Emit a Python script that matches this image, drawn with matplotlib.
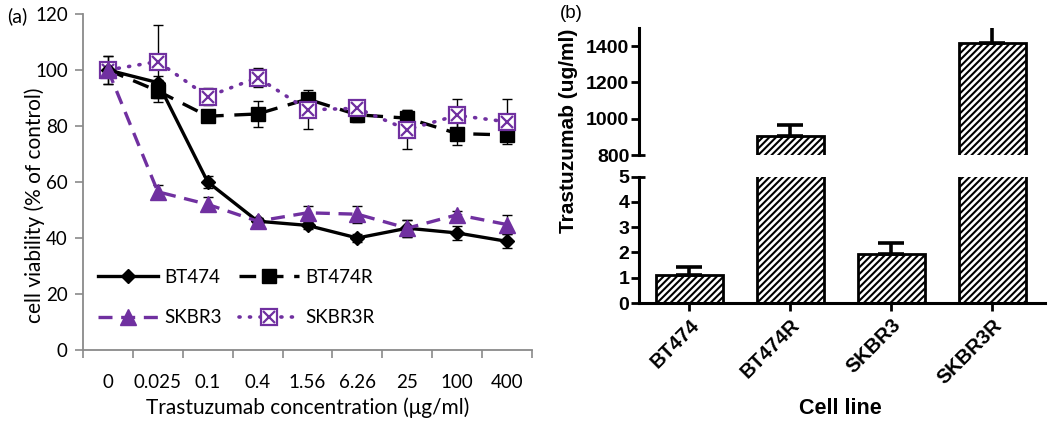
import numpy as np
import matplotlib
matplotlib.use("Agg")
import matplotlib.pyplot as plt
from matplotlib.lines import Line2D
from matplotlib.legend_handler import HandlerTuple

# ---------------- data ----------------
conc_labels = ['0', '0.025', '0.1', '0.4', '1.56', '6.26', '25', '100', '400']
bt474 = [100, 95.5, 60, 46, 44.5, 40, 43.5, 41.8, 38.8]
bt474_err = [2, 2.5, 2.2, 1, 1.2, 1.5, 3, 2.5, 2.5]
bt474r = [100, 92.5, 83.5, 84.3, 89.6, 84, 82.8, 77.3, 76.8]
bt474r_err = [2, 4, 2, 4.5, 1.5, 2.5, 3, 4, 1.5]
skbr3 = [100, 56.5, 52, 46, 49, 48.5, 43.5, 48.3, 44.8]
skbr3_err = [5, 2.5, 2.5, 1, 2.5, 3, 3, 1.5, 3.5]
skbr3r = [100, 103, 90.5, 97.3, 85.8, 86.3, 78.7, 83.8, 81.5]
skbr3r_err = [5, 13, 3, 3.5, 7, 2.5, 7, 6, 8]

cell_lines = ['BT474', 'BT474R', 'SKBR3', 'SKBR3R']
ic50 = [1.12, 905, 1.93, 1415]
ic50_err = [0.3, 60, 0.43, 100]

# ---------------- style ----------------
PURPLE = '#7030A0'
GRAY = '#8a8a8a'
FA = 'Lato'
FB = 'Liberation Sans'

W, H = 1050, 425
fig = plt.figure(figsize=(W / 100, H / 100), dpi=100)

def fx(px):
    return px / W

def fy(py):
    return 1 - py / H

# ---------------- panel (a) ----------------
axa = fig.add_axes([fx(83), fy(350), fx(532 - 83), (350 - 14) / H])
x = np.arange(len(conc_labels))

eb_kw = dict(ecolor='black', elinewidth=1.0, capsize=3.5, capthick=1.0, zorder=2)
axa.errorbar(x, bt474r, yerr=bt474r_err, fmt='none', **eb_kw)
axa.errorbar(x, skbr3r, yerr=skbr3r_err, fmt='none', **eb_kw)
axa.errorbar(x, bt474, yerr=bt474_err, fmt='none', **eb_kw)
axa.errorbar(x, skbr3, yerr=skbr3_err, fmt='none', **eb_kw)

l_bt474r, = axa.plot(x, bt474r, color='black', lw=2.4, dashes=(5, 3.2),
                     marker='s', ms=10, mfc='black', mec='black', zorder=3)
l_skbr3r, = axa.plot(x, skbr3r, color=PURPLE, lw=2.6, linestyle=(0, (0.3, 2.6)),
                     dash_capstyle='round', marker='s', ms=11.5, mfc='white',
                     mec=PURPLE, mew=1.6, zorder=4)
x_skbr3r, = axa.plot(x, skbr3r, linestyle='none', marker='x', ms=9,
                     mec=PURPLE, mew=1.6, zorder=5)
l_bt474, = axa.plot(x, bt474, color='black', lw=2.4, marker='D', ms=7.5,
                    mfc='black', mec='black', zorder=6)
l_skbr3, = axa.plot(x, skbr3, color=PURPLE, lw=2.4, dashes=(4.2, 2.6),
                    marker='^', ms=11, mfc=PURPLE, mec=PURPLE, zorder=6)

axa.set_xlim(-0.5, len(conc_labels) - 0.5)
axa.set_ylim(0, 120)
axa.set_yticks(np.arange(0, 121, 20))
axa.set_xticks(x)
axa.set_xticklabels(conc_labels)
axa.set_xticks(np.arange(-0.5, len(conc_labels), 1.0), minor=True)
axa.tick_params(axis='x', which='major', length=0, pad=17, labelsize=13.5)
axa.tick_params(axis='x', which='minor', length=6, width=1.2, color=GRAY, direction='out')
axa.tick_params(axis='y', length=6, width=1.2, color=GRAY, labelsize=13.5, pad=5)
for lab in axa.get_xticklabels() + axa.get_yticklabels():
    lab.set_fontfamily(FA)
for s in ['top', 'right']:
    axa.spines[s].set_visible(False)
for s in ['left', 'bottom']:
    axa.spines[s].set_color(GRAY)
    axa.spines[s].set_linewidth(1.3)

# ncol=2 fills column-wise: col1 = BT474, SKBR3 ; col2 = BT474R, SKBR3R
leg_handles = [l_bt474, l_skbr3, l_bt474r, (l_skbr3r, x_skbr3r)]
leg_labels = ['BT474', 'SKBR3', 'BT474R', 'SKBR3R']
leg = axa.legend(leg_handles, leg_labels,
                 handler_map={tuple: HandlerTuple(ndivide=1)},
                 loc='lower left', bbox_to_anchor=(-0.005, 0.02), ncol=2,
                 frameon=False, numpoints=1, handlelength=3.2,
                 handletextpad=0.35, columnspacing=0.9, labelspacing=1.25,
                 prop={'family': FA, 'size': 13.5})

fig.text(fx(35), fy(205), 'cell viability (% of control)', rotation=90,
         ha='center', va='center', fontsize=15, family=FA)
fig.text(fx(308), fy(408), 'Trastuzumab concentration (\u03bcg/ml)',
         ha='center', va='center', fontsize=15, family=FA)
fig.text(fx(17), fy(16), '(a)', ha='center', va='center', fontsize=14, family=FA)

# ---------------- panel (b) ----------------
xb = np.arange(len(cell_lines))
ax_top = fig.add_axes([fx(639), fy(155), fx(1045 - 639), (155 - 28) / H])
ax_bot = fig.add_axes([fx(639), fy(303), fx(1045 - 639), (303 - 176.5) / H])

plt.rcParams['hatch.linewidth'] = 1.5
for ax in (ax_top, ax_bot):
    ax.bar(xb, ic50, width=0.67, color='white', edgecolor='black',
           linewidth=2.0, hatch='/////', zorder=2)
    ax.errorbar(xb, ic50, yerr=[np.zeros(len(ic50)), ic50_err], fmt='none',
                ecolor='black', elinewidth=2.6, capsize=9.5, capthick=2.6, zorder=3)
    ax.set_xlim(-0.5, 3.52)
    for s in ['top', 'right']:
        ax.spines[s].set_visible(False)
    ax.spines['left'].set_linewidth(2.2)
    ax.tick_params(axis='y', length=6, width=2.0, labelsize=14, pad=1)

ax_top.set_ylim(800, 1500)
ax_top.set_yticks([800, 1000, 1200, 1400])
ax_top.spines['bottom'].set_visible(False)
ax_top.set_xticks([])
for lab in ax_top.get_yticklabels():
    lab.set_fontfamily(FB)
    lab.set_fontweight('bold')

ax_bot.set_ylim(0, 5)
ax_bot.set_yticks(np.arange(0, 6, 1))
ax_bot.spines['bottom'].set_linewidth(2.2)
ax_bot.set_xticks(xb)
ax_bot.set_xticklabels(cell_lines, rotation=45, ha='right', rotation_mode='anchor',
                       fontsize=14.5, fontweight='bold', family=FB)
ax_bot.tick_params(axis='x', length=6, width=2.0, pad=3)
for lab in ax_bot.get_yticklabels():
    lab.set_fontfamily(FB)
    lab.set_fontweight('bold')

# break caps on the y axis (tick extends inward at the break ends)
ax_top.plot([0, 0.016], [0, 0], transform=ax_top.transAxes, color='black',
            lw=2.0, clip_on=False, solid_capstyle='butt')
ax_bot.plot([0, 0.016], [1, 1], transform=ax_bot.transAxes, color='black',
            lw=2.0, clip_on=False, solid_capstyle='butt')

fig.text(fx(569), fy(131), 'Trastuzumab (ug/ml)', rotation=90, ha='center',
         va='center', fontsize=15, fontweight='bold', family=FB)
fig.text(fx(840), fy(408), 'Cell line', ha='center', va='center',
         fontsize=15.5, fontweight='bold', family=FB)
fig.text(fx(571), fy(13), '(b)', ha='center', va='center', fontsize=13.5, family=FB)

fig.savefig('out.png', dpi=100)
